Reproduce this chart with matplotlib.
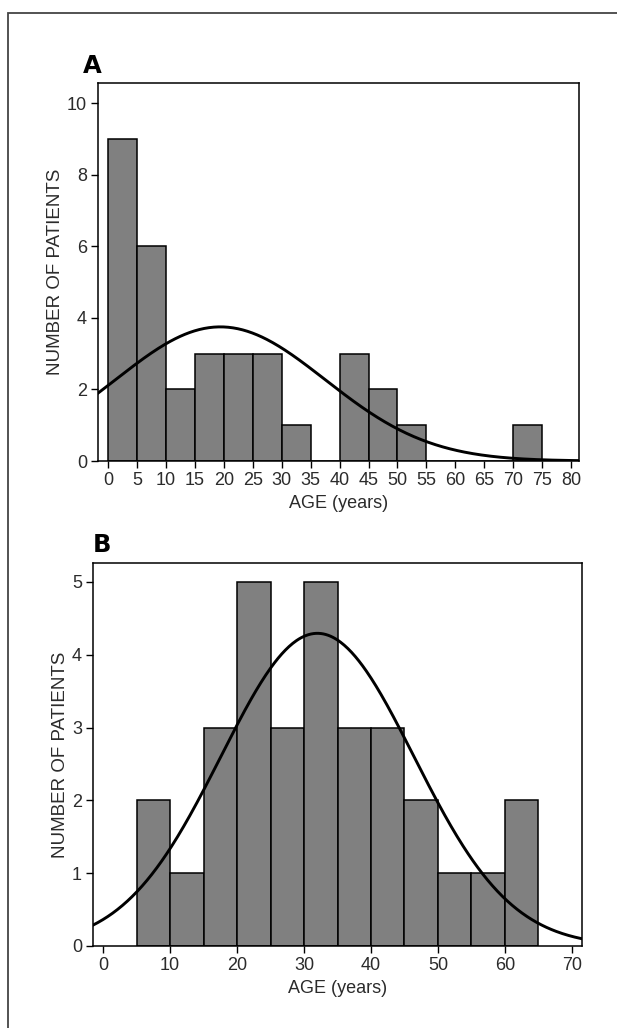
import matplotlib.pyplot as plt
import numpy as np
from matplotlib.patches import Rectangle

# panel A: age histogram, bins of 5 years from 0 to 80
a_edges = list(range(0, 85, 5))
a_counts = [9, 6, 2, 3, 3, 3, 1, 0, 3, 2, 1, 0, 0, 0, 1, 0]
a_mean, a_sd = 19.4, 18.1
a_xticks = list(range(0, 85, 5))
a_yticks = [0, 2, 4, 6, 8, 10]

# panel B: age histogram, bins of 5 years from 5 to 65
b_edges = list(range(5, 70, 5))
b_counts = [2, 1, 3, 5, 3, 5, 3, 3, 2, 1, 1, 2]
b_mean, b_sd = 32.0, 14.4
b_xticks = [0, 10, 20, 30, 40, 50, 60, 70]
b_yticks = [0, 1, 2, 3, 4, 5]

W, H = 617, 1028
FONT = ['Liberation Sans', 'DejaVu Sans']
TXT = '#2b2b2b'


def px_axes(fig, left, top, right, bottom):
    """axes from pixel box (y measured from top)"""
    return fig.add_axes([left / W, (H - bottom) / H,
                         (right - left) / W, (bottom - top) / H])


def draw_panel(ax, edges, counts, mean, sd, xlim, ylim, xticks, yticks):
    edges = np.array(edges, dtype=float)
    ax.bar(edges[:-1], counts, width=np.diff(edges), align='edge',
           color='#808080', edgecolor='black', linewidth=1.1, zorder=2)
    n = sum(counts)
    bw = edges[1] - edges[0]
    x = np.linspace(xlim[0], xlim[1], 400)
    y = n * bw / (sd * np.sqrt(2 * np.pi)) * np.exp(-0.5 * ((x - mean) / sd) ** 2)
    ax.plot(x, y, color='black', linewidth=2.1, zorder=3)
    ax.set_xlim(*xlim)
    ax.set_ylim(*ylim)
    ax.set_xticks(xticks)
    ax.set_yticks(yticks)
    for s in ax.spines.values():
        s.set_linewidth(1.1)
        s.set_color('black')
    ax.tick_params(direction='out', length=5, width=1.0, pad=3,
                   colors='black', labelcolor=TXT)
    for lab in ax.get_xticklabels() + ax.get_yticklabels():
        lab.set_family(FONT)
        lab.set_fontsize(13)
    ax.set_xlabel('AGE (years)', family=FONT, fontsize=13,
                  color=TXT, labelpad=4)
    ax.set_ylabel('NUMBER OF PATIENTS', family=FONT, fontsize=13.5,
                  color=TXT, labelpad=2)


fig = plt.figure(figsize=(W / 100, H / 100), dpi=100)

# outer frame (only top and left edges fall inside the picture)
fig.patches.append(Rectangle((8 / W, -0.1), 1.2, (H - 13) / H + 0.1,
                             transform=fig.transFigure, fill=False,
                             edgecolor='#444444', linewidth=1.3))

ax_a = px_axes(fig, 98, 83, 579, 461)
draw_panel(ax_a, a_edges, a_counts, a_mean, a_sd, (-1.73, 81.35), (0, 10.56),
           a_xticks, a_yticks)
fig.text(83 / W, (H - 73) / H, 'A', fontsize=17.5, fontweight='heavy',
         family='DejaVu Sans', ha='left', va='baseline')

ax_b = px_axes(fig, 93, 563, 582, 946)
draw_panel(ax_b, b_edges, b_counts, b_mean, b_sd, (-1.5, 71.5), (0, 5.26),
           b_xticks, b_yticks)
fig.text(93 / W, (H - 552) / H, 'B', fontsize=17.5, fontweight='heavy',
         family='DejaVu Sans', ha='left', va='baseline')

fig.savefig('out.png', dpi=100)
